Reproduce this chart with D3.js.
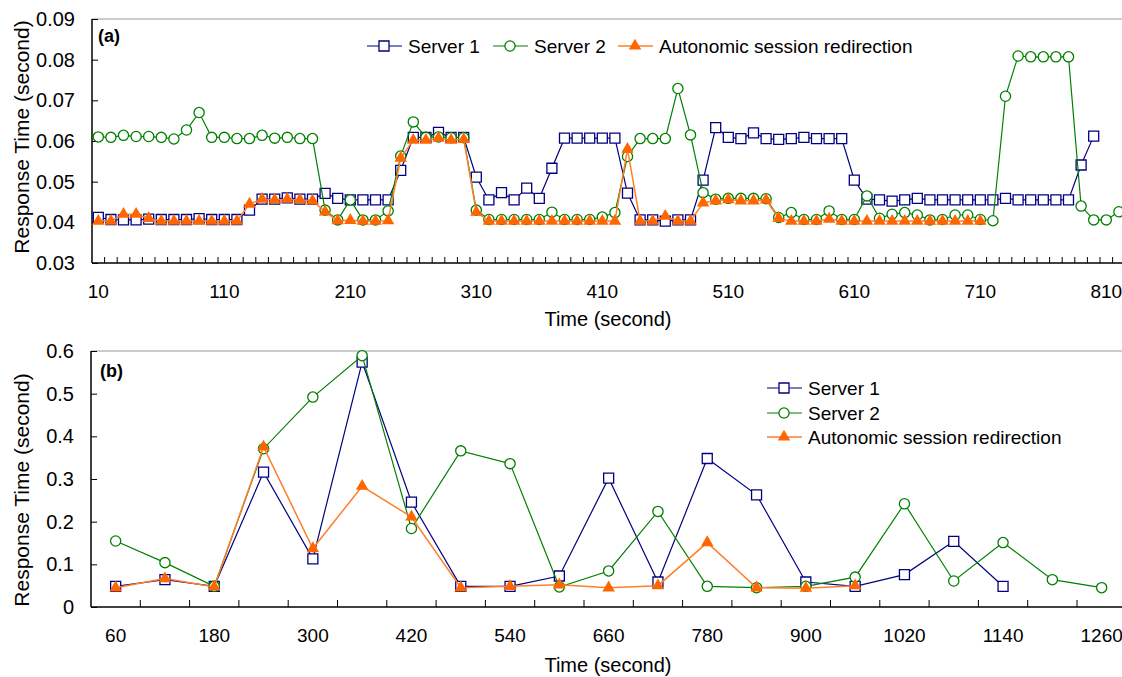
<!DOCTYPE html>
<html>
<head>
<meta charset="utf-8">
<script src="https://cdn.jsdelivr.net/npm/d3@7"></script>
<style>
  body { margin: 0; background: #fff; }
  text { font-family: "Liberation Sans", Arial, sans-serif; fill: #000; }
</style>
</head>
<body>
<div id="chart"></div>
<script>
// ---- panel (a) data ----
var topTimes = [10,20,30,40,50,60,70,80,90,100,110,120,130,140,150,160,170,180,190,200,
  210,220,230,240,250,260,270,280,290,300,310,320,330,340,350,360,370,380,390,400,
  410,420,430,440,450,460,470,480,490,500,510,520,530,540,550,560,570,580,590,600,
  610,620,630,640,650,660,670,680,690,700,710,720,730,740,750,760,770,780,790,800,
  810,820];
var topTickLabels = [10,110,210,310,410,510,610,710,810];
var topYTicks = [0.03,0.04,0.05,0.06,0.07,0.08,0.09];

var topServer1 = [0.0412,0.0407,0.0406,0.0406,0.0408,0.0407,0.0407,0.0407,0.0409,0.0407,
  0.0407,0.0407,0.0430,0.0457,0.0457,0.0460,0.0457,0.0457,0.0471,0.0459,
  0.0455,0.0455,0.0455,0.0455,0.0528,0.0609,0.0609,0.0621,0.0609,0.0609,
  0.0511,0.0455,0.0473,0.0455,0.0484,0.0459,0.0533,0.0607,0.0607,0.0607,
  0.0607,0.0607,0.0472,0.0406,0.0406,0.0403,0.0406,0.0406,0.0504,0.0633,
  0.0609,0.0606,0.0620,0.0606,0.0604,0.0606,0.0609,0.0606,0.0606,0.0606,
  0.0504,0.0457,0.0455,0.0452,0.0455,0.0459,0.0455,0.0455,0.0455,0.0455,
  0.0455,0.0455,0.0459,0.0455,0.0455,0.0455,0.0455,0.0455,0.0541,0.0612];
var topServer2 = [0.0610,0.0609,0.0614,0.0611,0.0611,0.0609,0.0605,0.0627,0.0670,0.0609,
  0.0609,0.0606,0.0606,0.0614,0.0607,0.0609,0.0606,0.0606,0.0430,0.0406,
  0.0455,0.0406,0.0406,0.0428,0.0563,0.0647,0.0609,0.0610,0.0608,0.0608,
  0.0430,0.0407,0.0407,0.0407,0.0407,0.0407,0.0425,0.0407,0.0407,0.0407,
  0.0413,0.0424,0.0562,0.0606,0.0606,0.0606,0.0729,0.0615,0.0473,0.0457,
  0.0459,0.0459,0.0459,0.0458,0.0412,0.0424,0.0407,0.0407,0.0428,0.0407,
  0.0407,0.0465,0.0410,0.0420,0.0424,0.0418,0.0406,0.0407,0.0418,0.0418,
  0.0407,0.0404,0.0710,0.0809,0.0807,0.0807,0.0807,0.0807,0.0440,0.0406,
  0.0406,0.0426];
var topRedirect = [0.0403,0.0403,0.0420,0.0420,0.0410,0.0403,0.0403,0.0403,0.0403,0.0403,
  0.0403,0.0403,0.0445,0.0457,0.0455,0.0457,0.0455,0.0453,0.0426,0.0404,
  0.0405,0.0403,0.0403,0.0404,0.0558,0.0602,0.0602,0.0607,0.0602,0.0604,
  0.0425,0.0403,0.0403,0.0403,0.0403,0.0403,0.0403,0.0403,0.0403,0.0403,
  0.0403,0.0403,0.0580,0.0403,0.0403,0.0415,0.0403,0.0403,0.0448,0.0453,
  0.0456,0.0453,0.0453,0.0455,0.0410,0.0403,0.0403,0.0403,0.0408,0.0403,
  0.0403,0.0403,0.0403,0.0403,0.0403,0.0403,0.0403,0.0403,0.0403,0.0403,
  0.0403];

// ---- panel (b) data ----
var botTimes = [60,120,180,240,300,360,420,480,540,600,660,720,780,840,900,960,1020,1080,1140,1200,1260];
var botTickLabels = [60,180,300,420,540,660,780,900,1020,1140,1260];
var botYTicks = [0,0.1,0.2,0.3,0.4,0.5,0.6];

var botServer1 = [0.0485,0.064,0.0485,0.316,0.113,0.574,0.246,0.0485,0.0485,0.0727,
  0.302,0.0586,0.348,0.263,0.0586,0.0485,0.076,0.154,0.0485];
var botServer2 = [0.1547,0.104,0.0485,0.371,0.492,0.589,0.184,0.366,0.336,0.047,
  0.0845,0.224,0.0485,0.0453,0.0485,0.070,0.242,0.061,0.151,0.064,0.0453];
var botRedirect = [0.045,0.0665,0.047,0.375,0.137,0.283,0.211,0.045,0.0485,0.052,
  0.045,0.050,0.151,0.045,0.044,0.050];

var seriesNames = ["Server 1", "Server 2", "Autonomic session redirection"];

// series styles
var styles = [
  {line: "#000080", stroke: "#000080", fill: "#fff", symbol: d3.symbolSquare, size: 100, width: 1.2},
  {line: "#008000", stroke: "#008000", fill: "#fff", symbol: d3.symbolCircle, size: 82, width: 1.2},
  {line: "#ff7f2a", stroke: "none", fill: "#ff6600", symbol: d3.symbolTriangle, size: 68, width: 1.5}
];

var svgWidth = 1122;
var svgHeight = 677;

var svg = d3.select("#chart")
  .append("svg")
  .attr("width", svgWidth)
  .attr("height", svgHeight)
  .style("display", "block");

function drawMarker(g, st, x, y) {
  g.append("path")
    .attr("d", d3.symbol().type(st.symbol).size(st.size)())
    .attr("transform", `translate(${x},${y})`)
    .attr("fill", st.fill)
    .attr("stroke", st.stroke)
    .attr("stroke-width", st.stroke === "none" ? 0 : 1.3);
}

function drawPanel(p) {
  var g = svg.append("g");

  var x = d3.scaleBand()
    .domain(p.times)
    .range([p.left, p.right])
    .paddingInner(0)
    .paddingOuter(0);
  var cx = t => x(t) + x.bandwidth() / 2;

  var y = d3.scaleLinear()
    .domain([p.yTicks[0], p.yTicks[p.yTicks.length - 1]])
    .range([p.bottom, p.top]);

  // top frame line (gray)
  g.append("line")
    .attr("x1", p.left).attr("x2", p.right)
    .attr("y1", p.top).attr("y2", p.top)
    .attr("stroke", "#9a9a9a").attr("stroke-width", 1.2);

  // x axis: labels at category centres
  var xAxis = g.append("g")
    .attr("transform", `translate(0,${p.bottom})`)
    .call(d3.axisBottom(x).tickValues(p.tickLabels).tickSize(0).tickPadding(p.xPad));
  xAxis.select(".domain").remove();
  xAxis.selectAll("text").attr("font-size", 19).attr("fill", "#000");

  // category boundary ticks pointing inward
  var bounds = p.times.map(t => x(t)).concat([p.right]);
  g.append("g").selectAll("line")
    .data(bounds.slice(1))
    .enter()
    .append("line")
    .attr("x1", d => d).attr("x2", d => d)
    .attr("y1", p.bottom).attr("y2", p.bottom - p.tickLen)
    .attr("stroke", "#000").attr("stroke-width", 1);

  g.append("line")
    .attr("x1", p.left).attr("x2", p.right)
    .attr("y1", p.bottom).attr("y2", p.bottom)
    .attr("stroke", "#000").attr("stroke-width", 1.5);

  // y axis with inside ticks
  var yAxis = g.append("g")
    .attr("transform", `translate(${p.left},0)`)
    .call(d3.axisLeft(y).tickValues(p.yTicks).tickFormat(p.yFormat)
      .tickSizeInner(-6).tickSizeOuter(0).tickPadding(p.yPad));
  yAxis.select(".domain").remove();
  yAxis.selectAll("line").attr("stroke", "#000");
  yAxis.selectAll("text").attr("font-size", 20).attr("fill", "#000");

  g.append("line")
    .attr("x1", p.left).attr("x2", p.left)
    .attr("y1", p.top).attr("y2", p.bottom)
    .attr("stroke", "#000").attr("stroke-width", 1.5);

  // series lines then markers
  p.series.forEach(function(vals, si) {
    var st = styles[si];
    var pts = vals.map((v, i) => [cx(p.times[i]), y(v)]);
    g.append("path")
      .attr("d", d3.line()(pts))
      .attr("fill", "none")
      .attr("stroke", st.line)
      .attr("stroke-width", st.width);
    var mg = g.append("g");
    pts.forEach(pt => drawMarker(mg, st, pt[0], pt[1]));
  });

  // panel tag
  g.append("text")
    .attr("x", p.tagX).attr("y", p.tagY)
    .attr("font-size", 18).attr("font-weight", "bold")
    .text(p.tag);

  // axis titles
  g.append("text")
    .attr("x", 608).attr("y", p.xTitleY)
    .attr("text-anchor", "middle")
    .attr("font-size", 20)
    .text("Time (second)");

  g.append("text")
    .attr("transform", `translate(${p.yTitleX},${p.yTitleY}) rotate(-90)`)
    .attr("text-anchor", "middle")
    .attr("font-size", 21)
    .text("Response Time (second)");

  // legend
  var lg = g.append("g");
  seriesNames.forEach(function(name, si) {
    var st = styles[si];
    var lx = p.legend.x[si], ly = p.legend.y[si];
    lg.append("line")
      .attr("x1", lx).attr("x2", lx + 35)
      .attr("y1", ly).attr("y2", ly)
      .attr("stroke", st.line).attr("stroke-width", st.width);
    drawMarker(lg, st, lx + 17, ly);
    lg.append("text")
      .attr("x", lx + 41).attr("y", ly)
      .attr("dy", "0.35em")
      .attr("font-size", 19)
      .text(name);
  });
}

// panel (a)
drawPanel({
  times: topTimes, tickLabels: topTickLabels, yTicks: topYTicks,
  yFormat: d3.format(".2f"),
  series: [topServer1, topServer2, topRedirect],
  left: 92, right: 92 + 82 * 12.6, top: 19, bottom: 263,
  xPad: 22, yPad: 17, tickLen: 6,
  tag: "(a)", tagX: 98, tagY: 42,
  xTitleY: 326, yTitleX: 29, yTitleY: 137,
  legend: {x: [367, 493, 618], y: [46, 46, 46]}
});

// panel (b)
drawPanel({
  times: botTimes, tickLabels: botTickLabels, yTicks: botYTicks,
  yFormat: d => d === 0 ? "0" : d3.format(".1f")(d),
  series: [botServer1, botServer2, botRedirect],
  left: 91, right: 91 + 21 * 49.3, top: 351, bottom: 607,
  xPad: 22, yPad: 17, tickLen: 7,
  tag: "(b)", tagX: 100, tagY: 377,
  xTitleY: 672, yTitleX: 29, yTitleY: 490,
  legend: {x: [767, 767, 767], y: [388, 413, 437]}
});
</script>
</body>
</html>
